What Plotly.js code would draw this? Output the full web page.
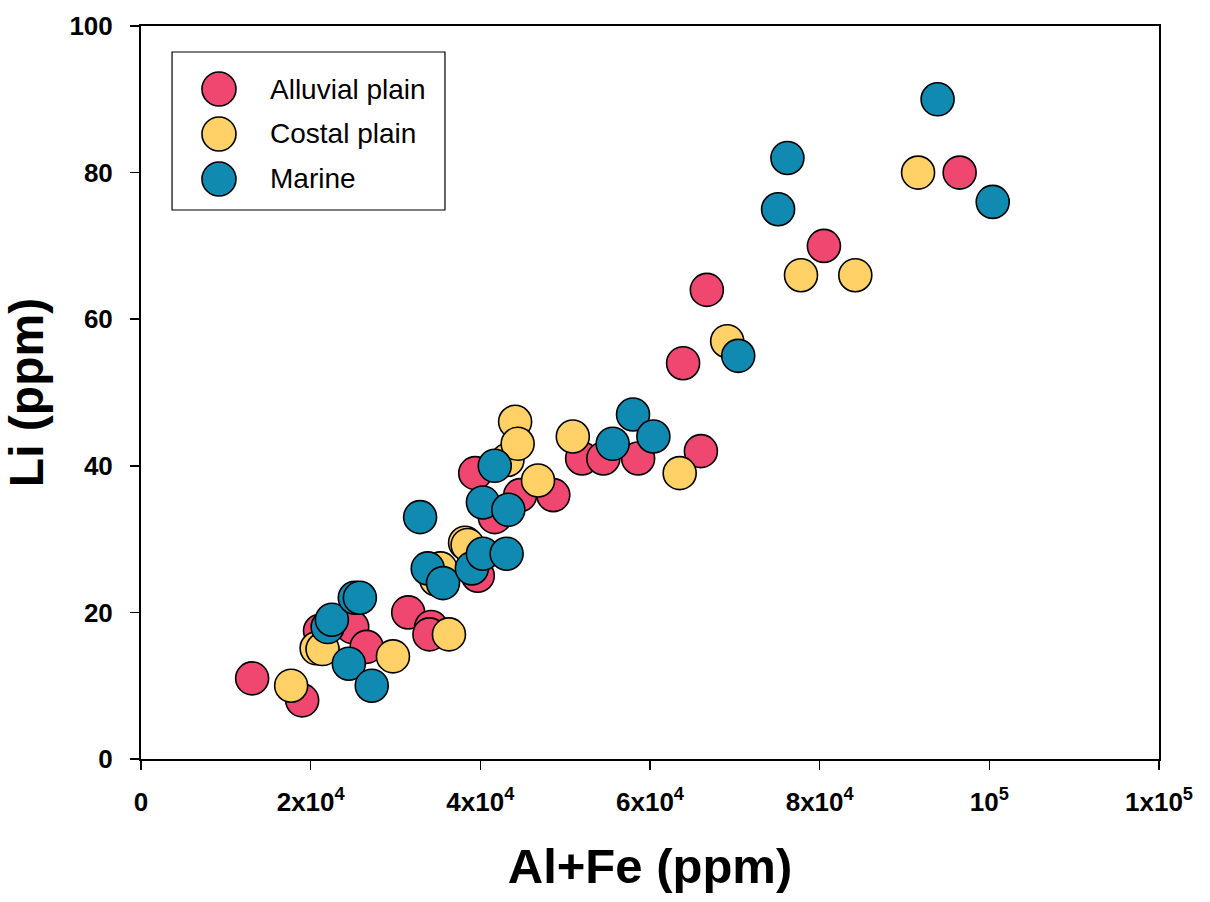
<!DOCTYPE html>
<html><head><meta charset="utf-8">
<script src="https://cdn.plot.ly/plotly-3.0.1.min.js"></script>
<style>html,body{margin:0;padding:0;background:#fff;}#chart{width:1210px;height:902px;}</style>
</head><body><div id="chart"></div>
<script>
const seriesNames = ["Alluvial plain", "Costal plain", "Marine"];
const seriesColors = ["#EF476F", "#FFD166", "#118AB2"];

const alluvialX = [13100, 19000, 21100, 24900, 26600, 31500, 34200, 34000, 39400, 39700, 41700, 44700, 48600, 52000, 54500, 58600, 63900, 66000, 66700, 80500, 96500];
const alluvialY = [11, 8, 17.5, 18, 15.3, 20, 18, 17, 39, 25, 33, 36, 36, 41, 41, 41, 54, 42, 64, 70, 80];

const costalX = [17700, 20700, 21400, 29700, 36300, 34800, 35300, 38200, 38500, 43200, 44100, 44400, 46800, 50900, 63500, 69100, 77800, 84200, 91600];
const costalY = [10, 15.1, 15, 14, 17, 24.5, 26, 29.5, 29.2, 40.8, 46, 43, 38, 44, 39, 57, 66, 66, 80];

const marineX = [24500, 27200, 22000, 22500, 25200, 25800, 33800, 35600, 32900, 39000, 40300, 43100, 40300, 43300, 41700, 55600, 58000, 60400, 70400, 75100, 76200, 93900, 100400];
const marineY = [13, 10, 18, 19, 22, 22, 26, 24, 33, 26, 28, 28, 35, 34, 40, 43, 47, 44, 55, 75, 82, 90, 76];

const xTickVals = [0, 20000, 40000, 60000, 80000, 100000, 120000];
const xTickText = ["0", "2x10<sup>4</sup>", "4x10<sup>4</sup>", "6x10<sup>4</sup>", "8x10<sup>4</sup>", "10<sup>5</sup>", "1x10<sup>5</sup>"];
const yTickVals = [0, 20, 40, 60, 80, 100];

const xs = [alluvialX, costalX, marineX];
const ys = [alluvialY, costalY, marineY];

const FONT = "Liberation Sans, Arial, sans-serif";

const traces = seriesNames.map((n, i) => ({
  type: "scatter", mode: "markers", name: n, x: xs[i], y: ys[i],
  marker: {size: 33, color: seriesColors[i], line: {color: "#000", width: 1.6}},
  showlegend: false, cliponaxis: false
}));

// custom legend (shapes + annotations)
const shapes = [{type: "rect", xref: "paper", yref: "paper", x0: 0.0305, x1: 0.2986, y0: 0.749, y1: 0.9645,
  line: {color: "#000", width: 1.2}, fillcolor: "rgba(0,0,0,0)"}];
const annotations = [];
const rowY = [0.914, 0.8527, 0.7913];
seriesNames.forEach((n, i) => {
  shapes.push({type: "circle", xref: "paper", yref: "paper", xsizemode: "pixel", ysizemode: "pixel",
    xanchor: 0.0766, yanchor: rowY[i], x0: -17, x1: 17, y0: -17, y1: 17,
    fillcolor: seriesColors[i], line: {color: "#000", width: 1.6}});
  annotations.push({xref: "paper", yref: "paper", x: 0.1248, y: rowY[i], xanchor: "left", yanchor: "middle",
    text: n, showarrow: false, font: {family: FONT, size: 28, color: "#000"}});
});

const layout = {
  width: 1210, height: 902,
  margin: {l: 141, r: 51, t: 26, b: 143},
  paper_bgcolor: "#fff", plot_bgcolor: "#fff",
  font: {family: FONT, color: "#000"},
  xaxis: {
    range: [0, 120000], tickvals: xTickVals, ticktext: xTickText,
    showgrid: false, zeroline: false, showline: true, linecolor: "#000", linewidth: 2, mirror: true,
    ticks: "outside", ticklen: 9, tickwidth: 1.5, tickcolor: "#000", ticklabelstandoff: 10,
    tickfont: {size: 26, family: FONT, weight: "bold"},
    title: {text: "<b>Al+Fe (ppm)</b>", font: {size: 49}, standoff: 32}
  },
  yaxis: {
    range: [0, 100], tickvals: yTickVals,
    showgrid: false, zeroline: false, showline: true, linecolor: "#000", linewidth: 2, mirror: true,
    ticks: "outside", ticklen: 9, tickwidth: 1.5, tickcolor: "#000", ticklabelstandoff: 12,
    tickfont: {size: 26, family: FONT, weight: "bold"},
    title: {text: "<b>Li (ppm)</b>", font: {size: 48}, standoff: 15}
  },
  shapes: shapes, annotations: annotations, showlegend: false
};

Plotly.newPlot("chart", traces, layout, {displayModeBar: false, staticPlot: true});
</script>
</body></html>
